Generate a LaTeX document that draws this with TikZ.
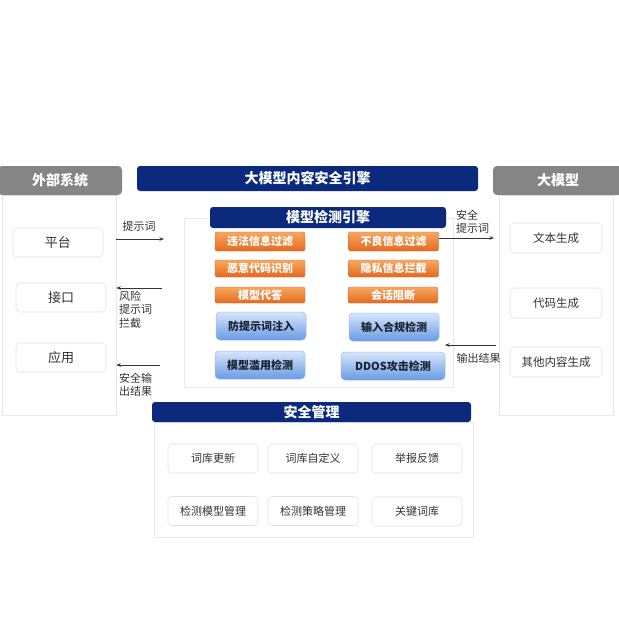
\documentclass[tikz,border=0pt]{standalone}
\usepackage{fontspec}
\setmainfont{Noto Sans CJK SC}
\usetikzlibrary{arrows.meta}
\definecolor{navy}{HTML}{0B2A7E}
\definecolor{hgray}{HTML}{858585}
\definecolor{panelline}{HTML}{E8E8E8}
\definecolor{boxline}{HTML}{E2E2E2}
\definecolor{txt}{HTML}{333333}
\definecolor{orT}{HTML}{F6A862}
\definecolor{orB}{HTML}{E5691E}
\definecolor{blT}{HTML}{D6E6FB}
\definecolor{blB}{HTML}{6A9BE3}
\definecolor{blLine}{HTML}{9ABBEA}
\definecolor{bltxt}{HTML}{1C2233}
\begin{document}
\begin{tikzpicture}[x=1pt,y=-1pt,
  hdrgray/.style={fill=hgray, rounded corners=4pt, text=white, font=\fontsize{14}{16}\selectfont\bfseries, inner sep=0pt},
  hdrnavy/.style={fill=navy, rounded corners=3pt, text=white, font=\fontsize{14}{16}\selectfont\bfseries, inner sep=0pt},
  panel/.style={draw=panelline, line width=0.6pt, fill=white, inner sep=0pt},
  wbox/.style={draw=boxline, line width=0.6pt, rounded corners=4pt, fill=white, text=txt, inner sep=0pt, minimum width=90pt, minimum height=29pt},
  obox/.style={top color=orT, bottom color=orB, draw=orB!85!black!90, line width=0.4pt, rounded corners=2pt, text=white, font=\fontsize{11}{13}\selectfont\bfseries, inner sep=0pt, minimum width=90pt},
  bbox/.style={top color=blT, bottom color=blB, draw=blLine, line width=0.5pt, rounded corners=4pt, text=bltxt, font=\fontsize{11}{13}\selectfont\bfseries, inner sep=0pt, minimum width=90pt, minimum height=28pt},
  arr/.style={draw=txt, line width=0.8pt, -{Stealth[length=4.5pt,width=3.5pt]}},
  lbl/.style={text=txt, font=\fontsize{11}{13.5}\selectfont, inner sep=0pt, align=left}
]
\useasboundingbox (0,0) rectangle (619,619);

% panels
\node[panel, minimum width=114pt, minimum height=220pt] (lp) at (59,305) {};
\node[panel, minimum width=114pt, minimum height=220pt] (rp) at (556,305) {};
\node[panel, minimum width=269pt, minimum height=169pt] (cp) at (318.5,302.5) {};
\node[panel, minimum width=319pt, minimum height=115pt] (bp) at (313.5,480) {};

% headers
\node[hdrgray, minimum width=124pt, minimum height=29pt] (ext) at (60,180.5) {外部系统};
\node[hdrgray, minimum width=130pt, minimum height=29pt] (llm) at (558,180.5) {大模型};
\node[hdrnavy, minimum width=341pt, minimum height=25pt] (eng) at (307.5,178.5) {大模型内容安全引擎};
\node[hdrnavy, minimum width=236pt, minimum height=21pt] (det) at (328,217.5) {模型检测引擎};
\node[hdrnavy, minimum width=319pt, minimum height=20pt] (mgmt) at (311.5,412) {安全管理};

% left boxes
\node[wbox, font=\fontsize{13}{15}\selectfont] (pt) at (58,242.5) {平台};
\node[wbox, font=\fontsize{13}{15}\selectfont] (jk) at (61,297.5) {接口};
\node[wbox, font=\fontsize{13}{15}\selectfont] (yy) at (61,357.5) {应用};

% right boxes
\node[wbox, minimum width=92pt, minimum height=30pt, font=\fontsize{11.5}{14}\selectfont] (wb) at (556,238) {文本生成};
\node[wbox, minimum width=92pt, minimum height=30pt, font=\fontsize{11.5}{14}\selectfont] (dm) at (556,303) {代码生成};
\node[wbox, minimum width=92pt, minimum height=30pt, font=\fontsize{11.5}{14}\selectfont] (qt) at (556,362) {其他内容生成};

% orange boxes
\node[obox, minimum height=19pt] (wf) at (260,241.5) {违法信息过滤};
\node[obox, minimum height=19pt] (bl) at (393.5,241.5) {不良信息过滤};
\node[obox, minimum height=17pt] (ey) at (260,268.5) {恶意代码识别};
\node[obox, minimum height=17pt] (ys) at (393.5,268.5) {隐私信息拦截};
\node[obox, minimum height=16pt] (dd) at (260,295) {模型代答};
\node[obox, minimum height=16pt] (hh) at (393,295) {会话阻断};

% blue boxes
\node[bbox] (ff) at (261,326) {防提示词注入};
\node[bbox] (sr) at (394,327) {输入合规检测};
\node[bbox] (ly) at (260,365) {模型滥用检测};
\node[bbox, minimum width=104pt] (ddos) at (393,366) {DDOS攻击检测};

% bottom boxes
\node[wbox, font=\fontsize{11}{13}\selectfont] (m1) at (213,458.5) {词库更新};
\node[wbox, font=\fontsize{11}{13}\selectfont] (m2) at (313,458.5) {词库自定义};
\node[wbox, font=\fontsize{11}{13}\selectfont] (m3) at (417,458.5) {举报反馈};
\node[wbox, font=\fontsize{11}{13}\selectfont] (m4) at (213,511) {检测模型管理};
\node[wbox, font=\fontsize{11}{13}\selectfont] (m5) at (313,511) {检测策略管理};
\node[wbox, font=\fontsize{11}{13}\selectfont] (m6) at (417,511.5) {关键词库};

% arrows
\coordinate (a1e) at (164,239);
\coordinate (a2s) at (162,288);
\coordinate (a3s) at (160,365);
\coordinate (a4e) at (494,238);
\coordinate (a5s) at (496,345);
\coordinate (a5e) at (445,345);
\draw[arr] (lp.east |- a1e) -- (a1e);
\draw[arr] (a2s) -- (lp.east |- a2s);
\draw[arr] (a3s) -- (lp.east |- a3s);
\draw[arr] (bl.east |- a4e) -- (a4e);
\draw[arr] (a5s) -- (a5e);

% labels
\node[lbl] (l1) at (139,226) {提示词};
\node[lbl, anchor=north west] (l2) at (119,290.5) {风险\\提示词\\拦截};
\node[lbl, anchor=north west] (l3) at (119,372.5) {安全输\\出结果};
\node[lbl, anchor=north west] (l4) at (456,209.5) {安全\\提示词};
\node[lbl] (l5) at (478.5,358.5) {输出结果};
\end{tikzpicture}
\end{document}
